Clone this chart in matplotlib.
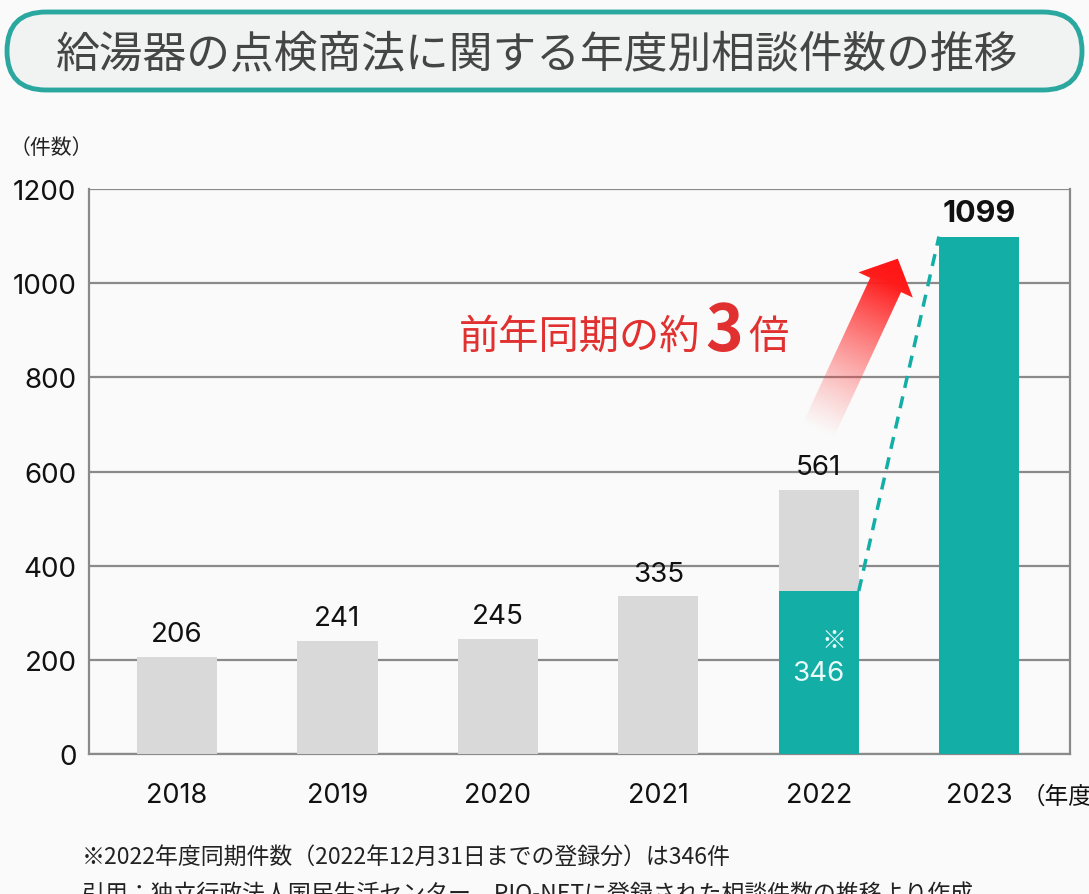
import matplotlib
matplotlib.use("Agg")
import matplotlib.pyplot as plt
import numpy as np
from matplotlib.patches import FancyBboxPatch, Polygon

plt.rcParams["font.family"] = ["Noto Sans CJK JP", "DejaVu Sans"]
NUM_FONT = ["Inter", "Noto Sans CJK JP"]

# data
years = ["2018", "2019", "2020", "2021", "2022", "2023"]
counts = [206, 241, 245, 335, 561, 1099]
same_period_2022 = 346
yticks = [0, 200, 400, 600, 800, 1000, 1200]

title = "給湯器の点検商法に関する年度別相談件数の推移"
note1 = "※2022年度同期件数（2022年12月31日までの登録分）は346件"
note2 = "引用：独立行政法人国民生活センター　PIO-NETに登録された相談件数の推移より作成"

GREY = "#d9d9d9"
TEAL = "#13aea6"
GRID = "#8a8a8a"
BG = "#fafafa"
RED = "#e0302f"

W, H = 1089, 895
fig = plt.figure(figsize=(W / 100, H / 100), dpi=100, facecolor=BG)

ax = fig.add_axes([89 / W, 1 - 755 / H, (1070 - 89) / W, (755 - 190) / H])
ax.set_facecolor(BG)
x = np.arange(len(years))
bw = 0.5

bar_colors = [GREY] * 5 + [TEAL]
ax.bar(x, counts, width=bw, color=bar_colors, zorder=3)
ax.bar(x[4], same_period_2022, width=bw, color=TEAL, zorder=4)

# dashed link 2022 same period -> 2023
ax.plot([x[4] + bw / 2, x[5] - bw / 2], [same_period_2022, counts[5]],
        color=TEAL, lw=2.5, ls=(0, (3.5, 2.5)), zorder=5)

ax.set_xlim(-0.549, 5.567)
ax.set_ylim(0, 1200)
ax.set_yticks(yticks)
ax.set_yticklabels([str(v) for v in yticks], fontsize=20, color="#111111", family=NUM_FONT)
ax.set_xticks(x)
ax.set_xticklabels(years, fontsize=19.5, color="#111111", family=NUM_FONT)
ax.tick_params(axis="y", length=0, pad=9)
ax.tick_params(axis="x", length=0, pad=20)
ax.yaxis.grid(True, color=GRID, lw=1.6, zorder=0)
for s in ["left", "right", "bottom"]:
    ax.spines[s].set_color(GRID)
    ax.spines[s].set_linewidth(1.6)
ax.spines["top"].set_visible(False)

# value labels
for i in range(5):
    ax.annotate(str(counts[i]), (x[i], counts[i]), xytext=(0, 7), textcoords="offset points",
                ha="center", va="bottom", fontsize=20, color="#111111", zorder=6, family=NUM_FONT)
ax.annotate(str(counts[5]), (x[5], counts[5]), xytext=(0, 7), textcoords="offset points",
            ha="center", va="bottom", fontsize=22, fontweight="bold", color="#111111", zorder=6,
            family=NUM_FONT)
ax.annotate("※", (x[4], same_period_2022), xytext=(11, -35), textcoords="offset points",
            ha="center", va="center", fontsize=18, color="#eafaf8", zorder=6)
ax.annotate(str(same_period_2022), (x[4], same_period_2022), xytext=(0, -59), textcoords="offset points",
            ha="center", va="center", fontsize=20, color="#eafaf8", zorder=6, family=NUM_FONT)

# overlay in pixel coordinates
ov = fig.add_axes([0, 0, 1, 1], zorder=10)
ov.set_xlim(0, W)
ov.set_ylim(H, 0)
ov.axis("off")
ov.patch.set_alpha(0)

box = FancyBboxPatch((7, 13), 1075, 78, boxstyle="round,pad=0,rounding_size=39",
                     facecolor="#f1f2f2", edgecolor="#2aa8a0", lw=3.5)
ov.add_patch(box)
ov.text(537, 55, title, ha="center", va="center", fontsize=31.5, color="#454545", fontweight="normal")

ov.text(10, 148, "（件数）", ha="left", va="center", fontsize=15, color="#222222")
ov.text(1022, 797, "（年度）", ha="left", va="center", fontsize=17, color="#111111")

# gradient arrow
tail = np.array([818.0, 432.0])
u = np.array([0.42, -0.907])
n = np.array([0.907, 0.42])
L, head_len, sw, hw = 190, 29, 17, 30
neck = tail + u * (L - head_len)
pts = [tail - n * sw, neck - n * sw, neck - n * hw, tail + u * L,
       neck + n * hw, neck + n * sw, tail + n * sw]
poly = Polygon(pts, closed=True, facecolor="none", edgecolor="none")
ov.add_patch(poly)
gx, gy = np.meshgrid(np.linspace(770, 950, 200), np.linspace(240, 460, 240))
t = ((gx - tail[0]) * u[0] + (gy - tail[1]) * u[1]) / L
t = np.clip(t, 0, 1)
img = np.zeros(gx.shape + (4,))
img[..., 0] = 1.0
img[..., 1] = 0.08 + 0.2 * (1 - t)
img[..., 2] = 0.08 + 0.2 * (1 - t)
img[..., 3] = np.clip(t * 1.15, 0, 1) ** 1.1
im = ov.imshow(img, extent=(770, 950, 460, 240), origin="upper", aspect="auto", zorder=2)
im.set_clip_path(poly)

ov.text(459, 349, "前年同期の約", ha="left", va="baseline", fontsize=29, color=RED)
ov.text(705, 351, "3", ha="left", va="baseline", fontsize=46, fontweight="bold", color=RED)
ov.text(748, 349, "倍", ha="left", va="baseline", fontsize=29, color=RED)

ov.text(82, 857, note1, ha="left", va="center", fontsize=16.5, color="#222222")
ov.text(82, 884, note2, ha="left", va="top", fontsize=16.5, color="#222222")

fig.savefig("out.png", dpi=100, facecolor=BG)
